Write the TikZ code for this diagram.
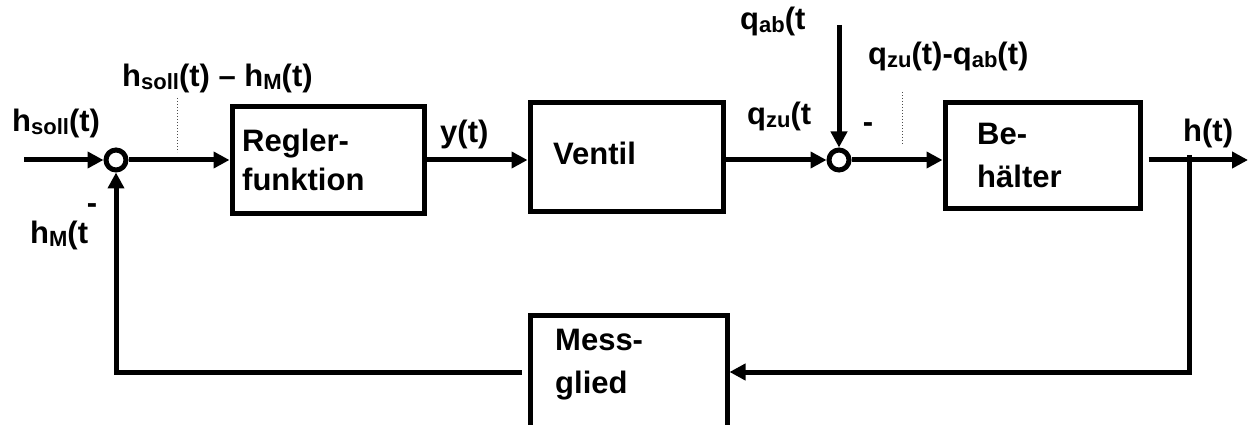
\documentclass[tikz,border=0pt]{standalone}
\usepackage{fontspec}
\setmainfont{Liberation Sans}
\usetikzlibrary{arrows.meta}
\newcommand\lo[1]{\raisebox{-3pt}{\fontsize{22}{22}\selectfont #1}}
\tikzset{
  blk/.style={draw, line width=5pt, rectangle, inner sep=0pt},
  sumpt/.style={draw, line width=5pt, circle, inner sep=0pt, minimum size=20pt},
  conn/.style={line width=5pt},
  arr/.style={line width=5pt, -{Triangle[length=16pt,width=16pt]}},
  lbl/.style={font=\bfseries\fontsize{31}{36}\selectfont, inner sep=0pt, anchor=base west},
  dotl/.style={line width=1pt, dotted, black!70},
}
\begin{document}
\begin{tikzpicture}[x=1pt,y=-1pt]
\clip (0,0) rectangle (1251,425);
\useasboundingbox (0,0) rectangle (1251,425);
% blocks
\node[blk, minimum width=192pt, minimum height=106pt] (reg) at (328,160) {};
\node[blk, minimum width=193pt, minimum height=108pt] (ven) at (626.5,157) {};
\node[blk, minimum width=195pt, minimum height=105pt] (beh) at (1042.5,155.5) {};
\node[blk, minimum width=197pt, minimum height=130pt] (mess) at (628.5,380) {};
% summing points
\node[sumpt] (c1) at (116,160) {};
\node[sumpt] (c2) at (839,160) {};
% helper coordinates
\coordinate (in) at (24,160);
\coordinate (qab) at (839,25);
\coordinate (out) at (1248,160);
\coordinate (fb) at (1189,155);
\coordinate (fbb) at (1189,372);
\coordinate (fbl) at (116,372);
\coordinate (d1a) at (177,98);
\coordinate (d1b) at (177,152);
\coordinate (d2a) at (902,92);
\coordinate (d2b) at (902,145);
% connectors
\draw[arr] (in) -- (c1.west);
\draw[arr] (c1.east) -- (reg.west |- c1);
\draw[arr] (reg.east |- c1) -- (ven.west |- c1);
\draw[arr] (ven.east |- c2) -- (c2.west);
\draw[arr] (qab) -- (c2.north);
\draw[arr] (c2.east) -- (beh.west |- c2);
\draw[arr] ([xshift=6pt]beh.east |- c2) -- (out);
\draw[arr] (fb) -- (fbb) -- (mess.east |- fbb);
\draw[arr] ([xshift=-6pt]mess.west |- fbb) -- (fbl) -- (c1.south);
\draw[dotl] (d1a) -- (d1b);
\draw[dotl] (d2a) -- (d2b);
% block texts
\node[lbl] (t1) at (242,152) {Regler-};
\node[lbl] (t2) at (242,190) {funktion};
\node[lbl] (t3) at (553,165) {Ventil};
\node[lbl] (t4) at (977,145) {Be-};
\node[lbl] (t5) at (977,187) {hälter};
\node[lbl] (t6) at (555,350) {Mess-};
\node[lbl] (t7) at (555,393) {glied};
% signal labels
\node[lbl] (l1) at (12,132) {h\lo{soll}(t)};
\node[lbl] (l2) at (122,87) {h\lo{soll}(t) – h\lo{M}(t)};
\node[lbl, anchor=base] (l3) at (92,214) {-};
\node[lbl] (l4) at (30,243) {h\lo{M}(t};
\node[lbl] (l5) at (440,143) {y(t)};
\node[lbl] (l6) at (747,125) {q\lo{zu}(t};
\node[lbl] (l7) at (740,30) {q\lo{ab}(t};
\node[lbl] (l8) at (868,65) {q\lo{zu}(t)-q\lo{ab}(t)};
\node[lbl, anchor=base] (l9) at (868,133) {-};
\node[lbl] (l10) at (1183,142) {h(t)};
\end{tikzpicture}
\end{document}
